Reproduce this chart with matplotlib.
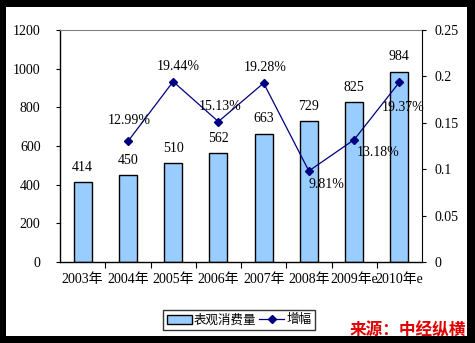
import matplotlib
matplotlib.use("Agg")
import matplotlib.pyplot as plt
from matplotlib.patches import Rectangle
from matplotlib.lines import Line2D
from matplotlib.patches import Patch

plt.rcParams['font.family'] = ['Liberation Serif', 'Noto Sans CJK SC', 'DejaVu Sans']

years = ["2003年", "2004年", "2005年", "2006年", "2007年", "2008年", "2009年e", "2010年e"]
consumption = [414, 450, 510, 562, 663, 729, 825, 984]
growth = [None, 0.1299, 0.1944, 0.1513, 0.1928, 0.0981, 0.1318, 0.1937]
growth_labels = ["", "12.99%", "19.44%", "15.13%", "19.28%", "9.81%", "13.18%", "19.37%"]
left_ticks = [0, 200, 400, 600, 800, 1000, 1200]
right_ticks = [0, 0.05, 0.1, 0.15, 0.2, 0.25]
right_tick_labels = ["0", "0.05", "0.1", "0.15", "0.2", "0.25"]

W, H = 475, 343
fig = plt.figure(figsize=(W / 100, H / 100), dpi=100)
fig.patch.set_facecolor("black")
fig.patches.append(Rectangle((6 / W, 1 - 336 / H), (467 - 6) / W, (336 - 7) / H,
                             transform=fig.transFigure, facecolor="white",
                             edgecolor="none", zorder=-5))

ax = fig.add_axes([60 / W, 1 - 262 / H, (422 - 60) / W, (262 - 30) / H])
ax.set_facecolor("white")
x = list(range(len(years)))
bars = ax.bar(x, consumption, width=0.4, color="#99CCFF", edgecolor="black", linewidth=1.0, zorder=2)
ax.set_xlim(-0.5, len(years) - 0.5)
ax.set_ylim(0, 1200)
ax.set_yticks(left_ticks)
ax.set_yticklabels([str(v) for v in left_ticks], fontsize=10)
ax.set_xticks([i - 0.5 for i in range(1, len(years))])
ax.set_xticklabels([])
ax.set_xticks(x, minor=True)
ax.set_xticklabels(years, minor=True, fontsize=10)
ax.tick_params(axis="x", which="minor", length=0, pad=8)
ax.tick_params(axis="x", which="major", length=4, direction="out", color="black")
ax.tick_params(axis="y", length=3, direction="out", pad=11)
for s in ["left", "bottom"]:
    ax.spines[s].set_color("black")
    ax.spines[s].set_linewidth(1.0)
ax.spines["top"].set_color("#808080")
ax.spines["right"].set_visible(False)

for xi, v in zip(x, consumption):
    ax.annotate(str(v), (xi, v), xytext=(0, 6), textcoords="offset points",
                ha="center", va="bottom", fontsize=10)

ax2 = ax.twinx()
ax2.set_ylim(0, 0.25)
ax2.set_yticks(right_ticks)
ax2.set_yticklabels(right_tick_labels, fontsize=10)
ax2.tick_params(axis="y", length=3, direction="out", pad=6)
ax2.spines["right"].set_color("black")
ax2.spines["top"].set_visible(False)
ax2.spines["left"].set_visible(False)
ax2.spines["bottom"].set_visible(False)

gx = [xi for xi, g in zip(x, growth) if g is not None]
gy = [g for g in growth if g is not None]
ax2.plot(gx, gy, color="#000080", linewidth=0.9, marker="D", markersize=4.5, zorder=3)

offsets = {1: (1, 15), 2: (4, 11), 3: (1, 11), 4: (1, 11), 5: (13, -10), 6: (17, -9), 7: (3, -18)}
for i, lab in enumerate(growth_labels):
    if not lab:
        continue
    dx, dy = offsets[i]
    ax2.annotate(lab, (x[i], growth[i]), xytext=(dx, dy), textcoords="offset points",
                 ha="center", va="center", fontsize=10)

handles = [Patch(facecolor="#99CCFF", edgecolor="black", linewidth=1.0),
           Line2D([0], [0], color="#000080", linewidth=0.9, marker="D", markersize=4.5)]
leg = fig.legend(handles, ["表观消费量", "增幅"], loc="center", bbox_to_anchor=(239 / W, 1 - 320 / H),
                 ncol=2, frameon=True, fancybox=False, fontsize=9, handlelength=2.0,
                 handletextpad=0.2, columnspacing=0.2, borderpad=0.3, borderaxespad=0)
leg.get_frame().set_edgecolor("black")
leg.get_frame().set_linewidth(1.0)
for t in leg.get_texts():
    t.set_family(['Noto Sans CJK SC', 'DejaVu Sans'])

fig.text(408 / W, 1 - 330 / H, "来源：中经纵横", color="#E00000", fontsize=12,
         fontweight="bold", fontstyle="italic", ha="center", va="center",
         family=['Noto Sans CJK SC', 'DejaVu Sans'])

fig.savefig("out.png", dpi=100, facecolor=fig.get_facecolor())
